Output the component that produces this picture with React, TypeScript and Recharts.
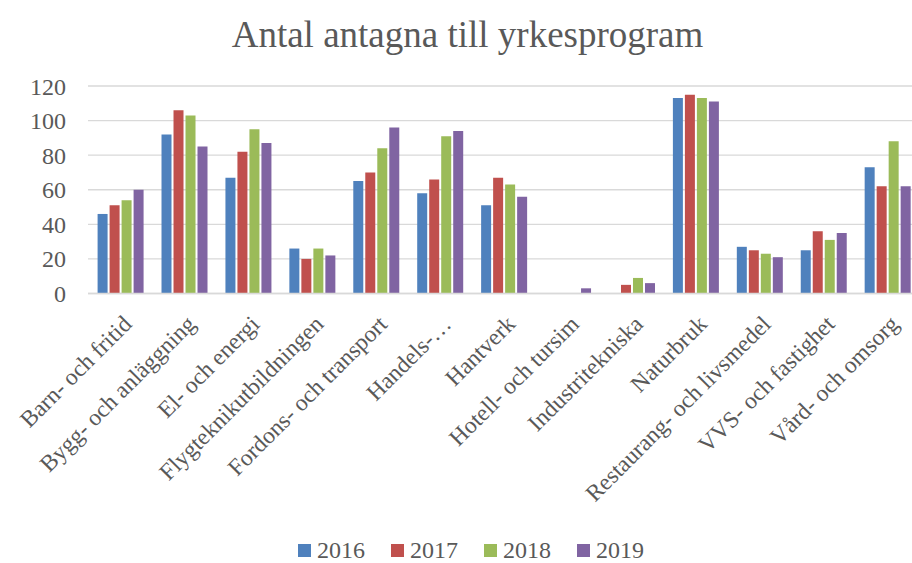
import React from 'react';
import { BarChart, Bar, XAxis, YAxis, CartesianGrid, Legend } from 'recharts';

const programs = [
  'Barn- och fritid',
  'Bygg- och anläggning',
  'El- och energi',
  'Flygteknikutbildningen',
  'Fordons- och transport',
  'Handels-…',
  'Hantverk',
  'Hotell- och tursim',
  'Industritekniska',
  'Naturbruk',
  'Restaurang- och livsmedel',
  'VVS- och fastighet',
  'Vård- och omsorg',
];
const y2016 = [46, 92, 67, 26, 65, 58, 51, 0, 0, 113, 27, 25, 73];
const y2017 = [51, 106, 82, 20, 70, 66, 67, 0, 5, 115, 25, 36, 62];
const y2018 = [54, 103, 95, 26, 84, 91, 63, 0, 9, 113, 23, 31, 88];
const y2019 = [60, 85, 87, 22, 96, 94, 56, 3, 6, 111, 21, 35, 62];
const years = ['2016', '2017', '2018', '2019'];
const colors = ['#4f81bd', '#c0504d', '#9bbb59', '#8064a2'];
const yTicks = [0, 20, 40, 60, 80, 100, 120];

const data = programs.map((p, i) => ({
  name: p,
  '2016': y2016[i],
  '2017': y2017[i],
  '2018': y2018[i],
  '2019': y2019[i],
}));

const font = '"Liberation Serif", "Times New Roman", serif';
const textColor = '#595959';

const XTick = (props: any) => {
  const { x, y, payload } = props;
  const ax = x + 13;
  const ay = y + 24;
  return (
    <text
      x={ax}
      y={ay}
      transform={`rotate(-45, ${ax}, ${ay})`}
      textAnchor="end"
      fill={textColor}
      fontSize={23.5}
      fontFamily={font}
    >
      {payload.value}
    </text>
  );
};

const LegendBox = () => (
  <div
    style={{
      display: 'flex',
      boxSizing: 'border-box',
      height: 30,
      paddingLeft: 298,
      paddingTop: 4,
      fontFamily: font,
      fontSize: 24,
      color: textColor,
      lineHeight: '26px',
    }}
  >
    {years.map((y, i) => (
      <div key={y} style={{ display: 'flex', alignItems: 'center', width: 93 }}>
        <span style={{ display: 'inline-block', width: 13, height: 13, background: colors[i], marginRight: 6 }} />
        <span>{y}</span>
      </div>
    ))}
  </div>
);

export default function App() {
  return (
    <div style={{ position: 'absolute', left: 0, top: 0, width: 912, height: 563, overflow: 'hidden', background: '#fff' }}>
      <div
        style={{
          position: 'absolute',
          left: 0,
          top: 12,
          width: 935,
          textAlign: 'center',
          fontFamily: font,
          fontSize: 37,
          lineHeight: '46px',
          color: textColor,
        }}
      >
        Antal antagna till yrkesprogram
      </div>
      <BarChart
        width={920}
        height={563}
        data={data}
        margin={{ top: 86, right: 1, bottom: 0, left: 0 }}
        barCategoryGap="15%"
        barGap={2}
      >
        <CartesianGrid vertical={false} stroke="#d9d9d9" strokeWidth={1.3} />
        <XAxis
          dataKey="name"
          interval={0}
          tickLine={false}
          axisLine={{ stroke: '#d9d9d9', strokeWidth: 1.5 }}
          height={239.5}
          tick={<XTick />}
        />
        <YAxis
          domain={[0, 120]}
          ticks={yTicks}
          width={88}
          axisLine={false}
          tickLine={false}
          tickMargin={16}
          tick={{ fill: textColor, fontSize: 24, fontFamily: font }}
        />
        <Legend verticalAlign="bottom" wrapperStyle={{ height: 30, left: 0, width: 912 }} content={<LegendBox />} />
        {years.map((y, i) => (
          <Bar key={y} dataKey={y} fill={colors[i]} isAnimationActive={false} />
        ))}
      </BarChart>
    </div>
  );
}
